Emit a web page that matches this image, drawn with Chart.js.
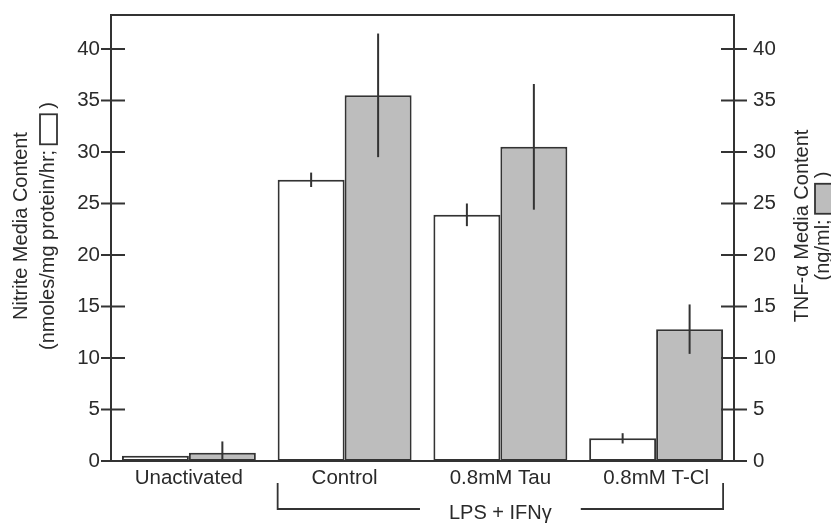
<!DOCTYPE html>
<html>
<head>
<meta charset="utf-8">
<script src="https://cdn.jsdelivr.net/npm/chart.js@4/dist/chart.umd.min.js"></script>
<style>
  html, body { margin: 0; padding: 0; background: #fff; }
  #wrap { width: 831px; height: 523px; }
</style>
</head>
<body>
<div id="wrap"><canvas id="grafico" width="831" height="523"></canvas></div>
<script>
const categorias = ['Unactivated', 'Control', '0.8mM Tau', '0.8mM T-Cl'];
const nitrito = [0.5, 27.3, 23.9, 2.2];
const nitritoErro = [0, 0.7, 1.1, 0.5];
const tnf = [0.8, 35.5, 30.5, 12.8];
const tnfErro = [1.1, 6.0, 6.1, 2.4];
const ticksY = [0, 5, 10, 15, 20, 25, 30, 35, 40];
const rotuloGrupo = 'LPS + IFN\u03b3';

const FONTE = '"Liberation Sans", Arial, sans-serif';
const COR_TEXTO = '#2a2a2a';
const COR_LINHA = '#333';

// moldura, marcas dos eixos (cruzando), barras de erro e colchete
const extras = {
    id: 'extras',
    afterDatasetsDraw(chart) {
        const ctx = chart.ctx;
        const a = chart.chartArea;
        ctx.save();
        ctx.beginPath();
        ctx.rect(a.left, a.top, a.right - a.left, a.bottom - a.top);
        ctx.clip();
        ctx.strokeStyle = COR_LINHA;
        ctx.lineWidth = 2;
        [[0, nitrito, nitritoErro, 'y'], [1, tnf, tnfErro, 'y2']].forEach(([i, vals, errs, eixo]) => {
            const meta = chart.getDatasetMeta(i);
            const escala = chart.scales[eixo];
            meta.data.forEach((bar, j) => {
                if (!errs[j]) return;
                const yTop = escala.getPixelForValue(vals[j] + errs[j]);
                const yBot = escala.getPixelForValue(Math.max(vals[j] - errs[j], 0));
                ctx.beginPath();
                ctx.moveTo(bar.x, yTop);
                ctx.lineTo(bar.x, yBot);
                ctx.stroke();
            });
        });
        ctx.restore();
    },
    afterDraw(chart) {
        const ctx = chart.ctx;
        const a = chart.chartArea;
        const sy = chart.scales.y;
        const sy2 = chart.scales.y2;
        ctx.save();
        ctx.strokeStyle = COR_LINHA;
        ctx.lineWidth = 2;
        ctx.strokeRect(a.left, a.top, a.right - a.left, a.bottom - a.top);

        ticksY.forEach(v => {
            const p = sy.getPixelForValue(v);
            ctx.beginPath();
            ctx.moveTo(a.left - 10, p);
            ctx.lineTo(a.left + 14, p);
            ctx.stroke();
            const p2 = sy2.getPixelForValue(v);
            ctx.beginPath();
            ctx.moveTo(a.right - 13, p2);
            ctx.lineTo(a.right + 13, p2);
            ctx.stroke();
        });

        // colchete LPS + IFNγ
        const m0 = chart.getDatasetMeta(0).data;
        const m1 = chart.getDatasetMeta(1).data;
        const xEsq = m0[1].x - m0[1].width / 2;
        const xDir = m1[3].x + m1[3].width / 2;
        const yAlto = a.bottom + 22;
        const yBaixo = a.bottom + 48;
        ctx.font = '20px ' + FONTE;
        const xMeio = (xEsq + xDir) / 2;
        const larg = ctx.measureText(rotuloGrupo).width;
        const folga = 29;
        ctx.lineWidth = 1.8;
        ctx.beginPath();
        ctx.moveTo(xEsq, yAlto);
        ctx.lineTo(xEsq, yBaixo);
        ctx.lineTo(xMeio - larg / 2 - folga, yBaixo);
        ctx.moveTo(xMeio + larg / 2 + folga, yBaixo);
        ctx.lineTo(xDir, yBaixo);
        ctx.lineTo(xDir, yAlto);
        ctx.stroke();
        ctx.fillStyle = COR_TEXTO;
        ctx.textAlign = 'center';
        ctx.textBaseline = 'middle';
        ctx.fillText(rotuloGrupo, xMeio, yBaixo + 4);

        // títulos dos eixos (ambos girados -90°)
        const centroY = (a.top + a.bottom) / 2 - 12;
        function titulo(x, linha1) {
            ctx.save();
            ctx.translate(x, centroY);
            ctx.rotate(-Math.PI / 2);
            ctx.font = '20px ' + FONTE;
            ctx.fillStyle = COR_TEXTO;
            ctx.textBaseline = 'middle';
            ctx.textAlign = 'center';
            ctx.fillText(linha1, 0, 0);
            ctx.restore();
        }
        function titulo2(x, antes, depois, caixaW, caixaCor) {
            ctx.save();
            ctx.translate(x, centroY);
            ctx.rotate(-Math.PI / 2);
            ctx.font = '20px ' + FONTE;
            ctx.fillStyle = COR_TEXTO;
            ctx.textBaseline = 'middle';
            ctx.textAlign = 'left';
            const w1 = ctx.measureText(antes).width;
            const w3 = ctx.measureText(depois).width;
            const total = w1 + caixaW + w3;
            const x0 = -total / 2;
            ctx.fillText(antes, x0, 0);
            ctx.fillStyle = caixaCor;
            ctx.fillRect(x0 + w1, -8, caixaW, 17);
            ctx.strokeStyle = COR_LINHA;
            ctx.lineWidth = 1.8;
            ctx.strokeRect(x0 + w1, -8, caixaW, 17);
            ctx.fillStyle = COR_TEXTO;
            ctx.fillText(depois, x0 + w1 + caixaW, 0);
            ctx.restore();
        }
        titulo(21, 'Nitrite Media Content');
        titulo2(48, '(nmoles/mg protein/hr; ', ' )', 30, '#ffffff');
        titulo(802, 'TNF-\u03b1 Media Content');
        titulo2(823, '(ng/ml; ', ' )', 30, '#bdbdbd');
        ctx.restore();
    }
};

new Chart(document.getElementById('grafico'), {
    type: 'bar',
    data: {
        labels: categorias,
        datasets: [{
            label: 'Nitrite',
            data: nitrito,
            yAxisID: 'y',
            backgroundColor: '#ffffff',
            borderColor: COR_LINHA,
            borderWidth: 2,
            borderSkipped: false,
            categoryPercentage: 0.86,
            barPercentage: 1.0
        }, {
            label: 'TNF-\u03b1',
            data: tnf,
            yAxisID: 'y2',
            backgroundColor: '#bdbdbd',
            borderColor: COR_LINHA,
            borderWidth: 2,
            borderSkipped: false,
            categoryPercentage: 0.86,
            barPercentage: 1.0
        }]
    },
    options: {
        responsive: false,
        animation: false,
        layout: { padding: { top: 15, left: 0, right: 0, bottom: 0 } },
        plugins: {
            legend: { display: false },
            tooltip: { enabled: false }
        },
        scales: {
            x: {
                grid: { display: false, drawTicks: false },
                border: { display: false },
                ticks: {
                    color: COR_TEXTO,
                    font: { size: 20.5, family: FONTE },
                    padding: 5,
                    maxRotation: 0
                },
                afterFit(scale) {
                    scale.height = 62;
                    scale.paddingLeft = 0;
                    scale.paddingRight = 0;
                }
            },
            y: {
                position: 'left',
                min: 0,
                max: 43.3,
                grid: { display: false, drawTicks: false },
                border: { display: false },
                ticks: {
                    stepSize: 5,
                    includeBounds: false,
                    color: COR_TEXTO,
                    font: { size: 20.5, family: FONTE },
                    padding: 11
                },
                afterFit(scale) {
                    scale.width = 111;
                    scale.paddingTop = 0;
                    scale.paddingBottom = 0;
                }
            },
            y2: {
                position: 'right',
                min: 0,
                max: 43.3,
                grid: { display: false, drawTicks: false },
                border: { display: false },
                ticks: {
                    stepSize: 5,
                    includeBounds: false,
                    color: COR_TEXTO,
                    font: { size: 20.5, family: FONTE },
                    padding: 19
                },
                afterFit(scale) {
                    scale.width = 97;
                    scale.paddingTop = 0;
                    scale.paddingBottom = 0;
                }
            }
        }
    },
    plugins: [extras]
});
</script>
</body>
</html>
